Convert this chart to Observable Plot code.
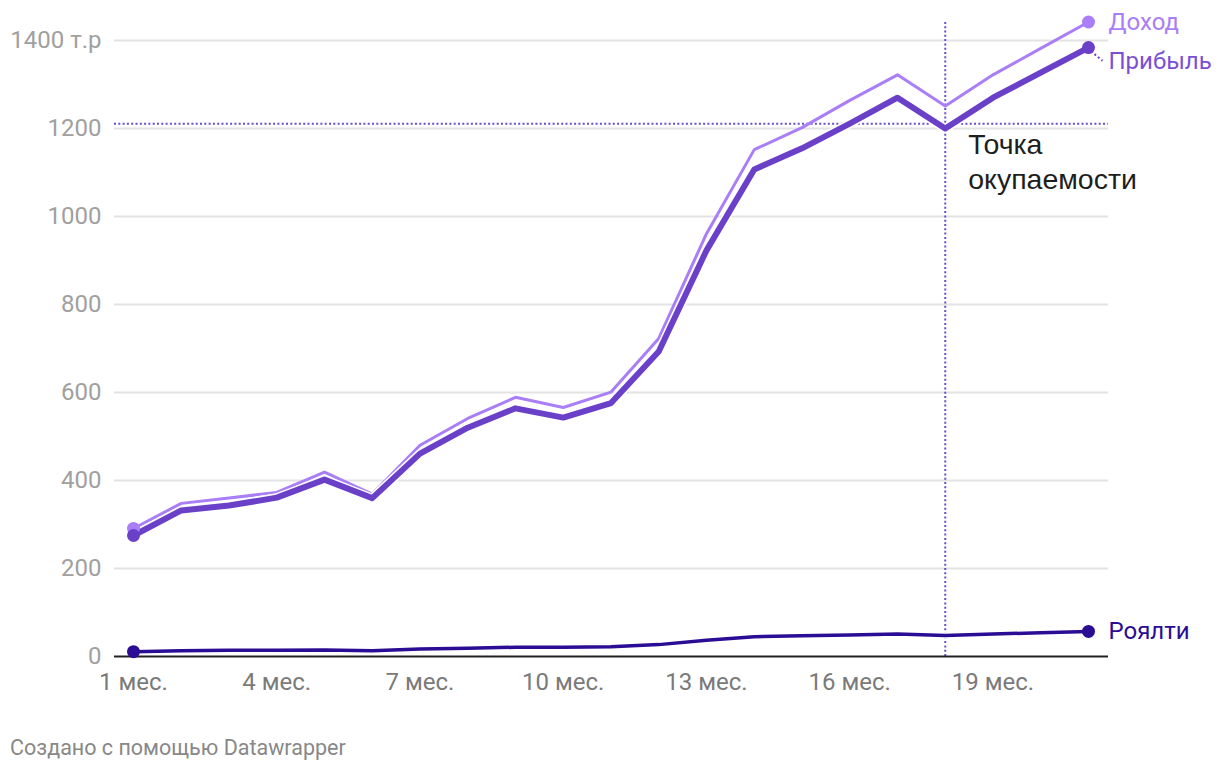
<!DOCTYPE html>
<html>
<head>
<meta charset="utf-8">
<script src="https://cdn.jsdelivr.net/npm/d3@7"></script>
<script src="https://cdn.jsdelivr.net/npm/@observablehq/plot@0.6"></script>
<style>
  html, body { margin: 0; padding: 0; background: #fff; }
  #chart svg { overflow: visible; display: block; }
  .footer { font-family: Roboto, sans-serif; font-size: 21.5px; color: #888; margin: 15px 0 0 10px; line-height: 26px; }
</style>
</head>
<body>
<div id="chart"></div>
<div class="footer">Создано с помощью Datawrapper</div>
<script>
const months = [1,2,3,4,5,6,7,8,9,10,11,12,13,14,15,16,17,18,19,20,21];
const dokhod = [291,348,360,373,419,369,480,541,589,566,601,723,961,1152,1202,1264,1322,1251,1322,1382,1442];
const pribyl = [275,332,343,361,402,360,461,520,564,543,576,693,923,1107,1155,1211,1270,1200,1270,1327,1384];
const royalty = [11,13,14,14,15,13,17,19,21,21,22,27,37,45,47,49,51,48,51,54,57];
const seriesNames = ["Доход", "Прибыль", "Роялти"];
const seriesColors = ["#a97ef6", "#6b40c9", "#2b0c94"];
const labelColors = ["#a97ef6", "#7a4fd6", "#2b0c94"];
const xTicks = [1,4,7,10,13,16,19];
const yTicks = [0,200,400,600,800,1000,1200,1400];
const breakEvenMonth = 18;
const breakEvenValue = 1211;
const annotation = ["Точка", "окупаемости"];

const rows = (vals, s) => months.map((m, i) => ({m, v: vals[i], s}));
const dD = rows(dokhod, seriesNames[0]);
const dP = rows(pribyl, seriesNames[1]);
const dR = rows(royalty, seriesNames[2]);
const endPts = [dD[dD.length-1], dP[dP.length-1], dR[dR.length-1]];
const startPts = [dD[0], dP[0], dR[0]];

const pxPerMonth = 47.75;
const xDomain = [1 - 19/pxPerMonth, 21 + 20/pxPerMonth];
const dotted = {stroke: "#6a4fd0", strokeWidth: 2, strokeDasharray: "2,2.3"};

const chart = Plot.plot({
  width: 1220,
  height: 720,
  marginLeft: 114,
  marginRight: 112,
  marginTop: 40,
  marginBottom: 64,
  x: {domain: xDomain, axis: null},
  y: {domain: [0, 1400], axis: null},
  marks: [
    Plot.ruleY(yTicks.slice(1), {stroke: "#e3e3e3", strokeWidth: 2}),
    Plot.ruleY([breakEvenValue], dotted),
    Plot.ruleX([breakEvenMonth], {y1: 0, y2: 1441, ...dotted}),
    Plot.line(dD, {x: "m", y: "v", stroke: seriesColors[0], strokeWidth: 3}),
    Plot.line(dP, {x: "m", y: "v", stroke: "#fff", strokeWidth: 9}),
    Plot.line(dP, {x: "m", y: "v", stroke: seriesColors[1], strokeWidth: 6}),
    Plot.line(dR, {x: "m", y: "v", stroke: "#fff", strokeWidth: 6.5}),
    Plot.line(dR, {x: "m", y: "v", stroke: seriesColors[2], strokeWidth: 3.5}),
    Plot.ruleY([0], {stroke: "#222", strokeWidth: 2}),
    Plot.dot(startPts, {x: "m", y: "v", r: 6.5, fill: (d) => seriesColors[seriesNames.indexOf(d.s)]}),
    Plot.dot(endPts, {x: "m", y: "v", r: 6.5, fill: (d) => seriesColors[seriesNames.indexOf(d.s)]}),
    // small dotted connector from the Прибыль end dot to its label
    Plot.link([endPts[1]], {x1: (d) => d.m + 6/pxPerMonth, y1: (d) => d.v - 15, x2: (d) => d.m + 14/pxPerMonth, y2: (d) => d.v - 30,
      stroke: "#6b40c9", strokeWidth: 2, strokeDasharray: "2,2.5"}),
    Plot.text([endPts[0]], {x: "m", y: "v", text: "s", dx: 20, textAnchor: "start", fill: labelColors[0], fontSize: 24, fontFamily: "Roboto"}),
    Plot.text([endPts[1]], {x: "m", y: (d) => d.v - 31, text: "s", dx: 20, textAnchor: "start", fill: labelColors[1], fontSize: 24, fontFamily: "Roboto"}),
    Plot.text([endPts[2]], {x: "m", y: "v", text: "s", dx: 20, textAnchor: "start", fill: labelColors[2], fontSize: 24, fontFamily: "Roboto"}),
    Plot.text(yTicks, {y: (d) => d, frameAnchor: "left", dx: -13, textAnchor: "end",
      text: (d) => d === 1400 ? "1400 т.р" : String(d), fill: "#a0a0a0", fontSize: 24, fontFamily: "Roboto"}),
    Plot.text(xTicks, {x: (d) => d, frameAnchor: "bottom", dy: 33, textAnchor: "middle",
      text: (d) => d + " мес.", fill: "#7a7a7a", fontSize: 24, fontFamily: "Roboto"}),
    Plot.text([annotation.join("\n")], {x: breakEvenMonth, y: breakEvenValue, dx: 23, dy: 6, textAnchor: "start", lineAnchor: "top",
      lineHeight: 1.22, fill: "#1e1e1e", fontSize: 28.5, fontFamily: "Liberation Sans, Arial, sans-serif"})
  ]
});
document.getElementById("chart").appendChild(chart);
</script>
</body>
</html>
